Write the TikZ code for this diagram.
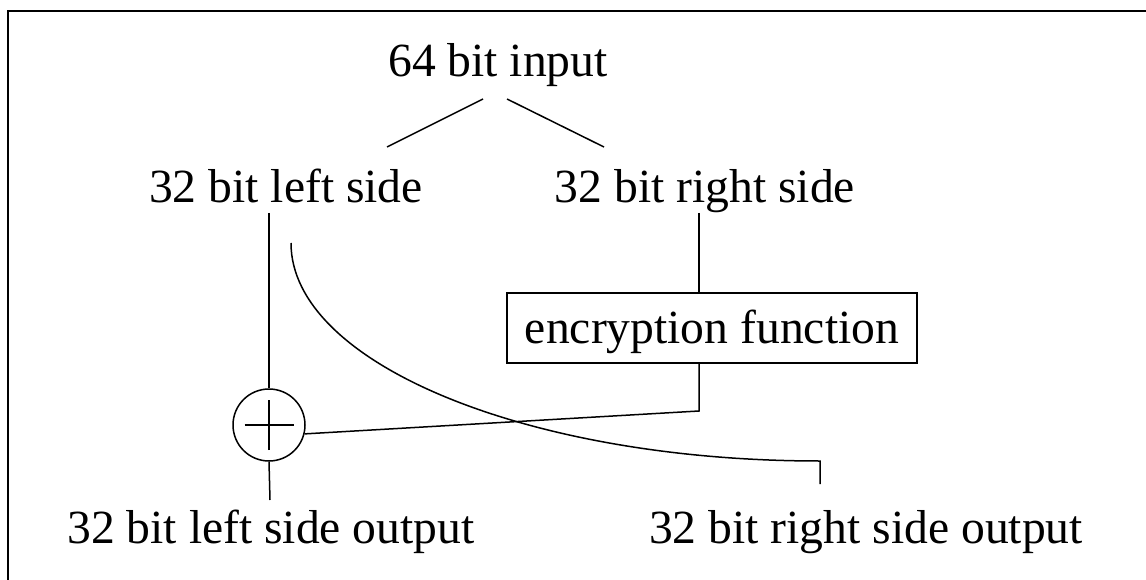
\documentclass[tikz,border=0pt]{standalone}
\usepackage{fontspec}
\setmainfont{Liberation Serif}
\begin{document}
\begin{tikzpicture}[x=1pt,y=-1pt,
  lbl/.style={anchor=base,inner sep=0pt,font=\fontsize{47.6}{57}\selectfont},
  conn/.style={line width=1.5pt},
  encbox/.style={lbl,draw,line width=1.5pt,minimum width=410pt,text height=42pt,text depth=12pt,inner ysep=8pt},
  xorc/.style={circle,draw,line width=1.5pt,minimum size=72pt,inner sep=0pt}]
\useasboundingbox (0,0) rectangle (1146,580);
\draw[line width=2.5pt] (8,580) -- (8,11) -- (1146,11);
\node[lbl] (in) at (498,77) {64 bit input};
\node[lbl] (ls) at (286,203) {32 bit left side};
\node[lbl] (rs) at (705,203) {32 bit right side};
\node[encbox] (enc) at (712,343) {encryption function};
\node[xorc] (xor) at (269,425) {};
\node[lbl] (lo) at (271,543) {32 bit left side output};
\node[lbl] (ro) at (866,543) {32 bit right side output};
\coordinate (inL) at (483,99);
\coordinate (lsT) at (387,147);
\coordinate (inR) at (507,99);
\coordinate (rsT) at (604,147);
\coordinate (lsB) at (269,213);
\coordinate (loT) at (270,500);
\coordinate (rsB) at (699,213);
\coordinate (encC) at (699,411);
\coordinate (cs) at (291,243);
\coordinate (roT) at (820,484);
\draw[conn] (inL) -- (lsT);
\draw[conn] (inR) -- (rsT);
\draw[conn] (lsB) -- (xor.north);
\draw[conn] (xor.south) -- (loT);
\draw[conn] (rsB) -- (rsB |- enc.north);
\draw[conn] (rsB |- enc.south) -- (encC) -- (xor.-14);
\draw[conn] (cs) arc[start angle=180,end angle=270,x radius=529pt,y radius=218pt] -- (roT);
\draw[conn] ([xshift=-24.5pt]xor.center) -- ([xshift=24.5pt]xor.center);
\draw[conn] ([yshift=-25pt]xor.center) -- ([yshift=25pt]xor.center);
\end{tikzpicture}
\end{document}
